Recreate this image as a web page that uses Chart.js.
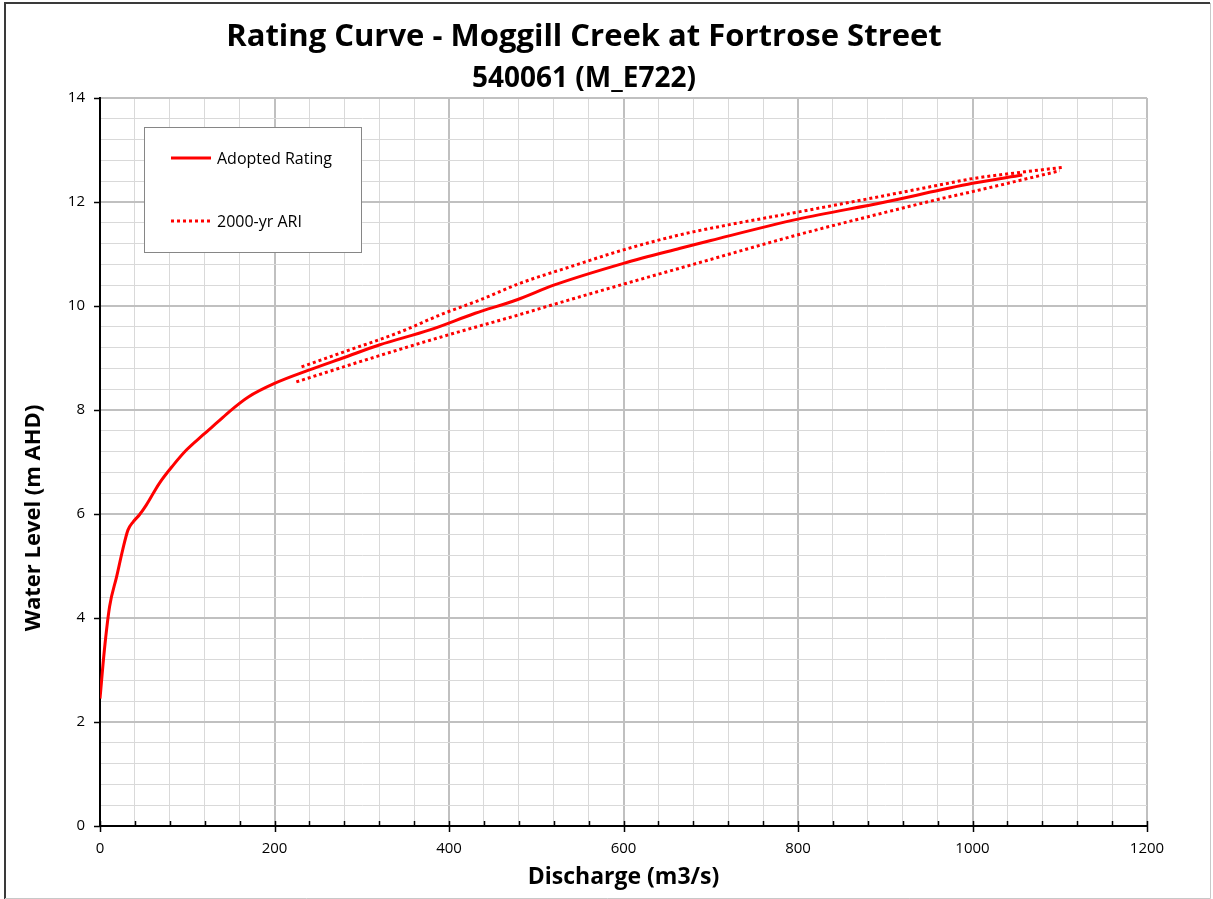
<!DOCTYPE html>
<html>
<head>
<meta charset="utf-8">
<title>Rating Curve - Moggill Creek at Fortrose Street</title>
<script src="https://cdn.jsdelivr.net/npm/chart.js@4/dist/chart.umd.min.js"></script>
<style>
  html, body { margin: 0; padding: 0; background: #ffffff; }
  #wrap { position: relative; width: 1213px; height: 899px; }
  canvas { display: block; }
</style>
</head>
<body>
<div id="wrap"><canvas id="chart" width="1213" height="899"></canvas></div>
<script>
// Adopted rating: discharge (m3/s) and water level (m AHD)
const adoptedQ = [0, 5, 11, 19, 26, 32, 38, 45, 53, 68, 84, 99, 118, 135, 149, 170, 200, 240, 280, 320, 378, 430, 478, 520, 600, 665, 700, 800, 900, 963, 1000, 1057];
const adoptedH = [2.45, 3.38, 4.22, 4.79, 5.31, 5.69, 5.85, 5.98, 6.17, 6.59, 6.94, 7.23, 7.52, 7.77, 7.98, 8.25, 8.51, 8.77, 9.01, 9.25, 9.54, 9.86, 10.12, 10.40, 10.82, 11.11, 11.26, 11.67, 12.00, 12.23, 12.36, 12.52];

// 2000-yr ARI envelope, upper branch
const ariUpperQ = [231, 280, 344, 390, 436, 482, 540, 600, 665, 720, 801, 880, 963, 1000, 1060, 1105];
const ariUpperH = [8.83, 9.12, 9.50, 9.83, 10.12, 10.44, 10.76, 11.08, 11.37, 11.56, 11.81, 12.06, 12.33, 12.45, 12.58, 12.67];

// 2000-yr ARI envelope, lower branch
const ariLowerQ = [225, 300, 390, 480, 520, 600, 684, 800, 900, 963, 1000, 1100];
const ariLowerH = [8.54, 8.94, 9.40, 9.83, 10.03, 10.42, 10.82, 11.37, 11.80, 12.06, 12.20, 12.60];

// Labelled axis values
const xTickLabels = [0, 200, 400, 600, 800, 1000, 1200];
const yTickLabels = [0, 2, 4, 6, 8, 10, 12, 14];

const titleText = 'Rating Curve - Moggill Creek at Fortrose Street';
const subtitleText = '540061 (M_E722)';
const xTitle = 'Discharge (m3/s)';
const yTitle = 'Water Level (m AHD)';

const FONT = '"Open Sans", "Noto Sans", "Liberation Sans", sans-serif';
const RED = '#ff0000';

function pts(qs, hs) { return qs.map((q, i) => ({ x: q, y: hs[i] })); }
function isMajor(v, list) { return list.some(t => Math.abs(t - v) < 1e-6); }

// Frame, titles, axis tick marks and inset legend
const decorations = {
  id: 'decorations',
  beforeDraw(chart) {
    const ctx = chart.ctx;
    ctx.save();
    ctx.fillStyle = '#ffffff';
    ctx.fillRect(0, 0, chart.width, chart.height);
    ctx.restore();
  },
  afterDraw(chart) {
    const ctx = chart.ctx;
    const xs = chart.scales.x, ys = chart.scales.y;
    const area = chart.chartArea;
    ctx.save();

    // tick marks
    ctx.strokeStyle = '#000000';
    ctx.lineWidth = 1.5;
    for (let v = 0; v <= 1200 + 1e-6; v += 40) {
      const px = Math.round(xs.getPixelForValue(v)) + 0.5;
      ctx.beginPath();
      if (isMajor(v, xTickLabels)) {
        ctx.moveTo(px, area.bottom - 5);
        ctx.lineTo(px, area.bottom + 6);
      } else {
        ctx.moveTo(px, area.bottom - 5);
        ctx.lineTo(px, area.bottom);
      }
      ctx.stroke();
    }
    yTickLabels.forEach(v => {
      const py = Math.round(ys.getPixelForValue(v)) + 0.5;
      ctx.beginPath();
      ctx.moveTo(area.left - 6, py);
      ctx.lineTo(area.left, py);
      ctx.stroke();
    });

    // titles
    ctx.fillStyle = '#000000';
    ctx.textAlign = 'center';
    ctx.textBaseline = 'alphabetic';
    ctx.font = 'bold 31px ' + FONT;
    ctx.fillText(titleText, 584, 46);
    ctx.font = 'bold 28px ' + FONT;
    ctx.fillText(subtitleText, 584, 87);

    ctx.font = 'bold 23px ' + FONT;
    ctx.fillText(xTitle, (area.left + area.right) / 2, 884);
    ctx.save();
    ctx.translate(34, 518);
    ctx.rotate(-Math.PI / 2);
    ctx.font = 'bold 22px ' + FONT;
    ctx.textBaseline = 'middle';
    ctx.fillText(yTitle, 0, 0);
    ctx.restore();

    // legend box
    const lx = 144.5, ly = 127.5, lw = 217, lh = 125;
    ctx.fillStyle = '#ffffff';
    ctx.fillRect(lx, ly, lw, lh);
    ctx.strokeStyle = '#868686';
    ctx.lineWidth = 1;
    ctx.strokeRect(lx, ly, lw, lh);

    const entries = chart.data.datasets.filter(d => !d.hideInLegend);
    const rowY = [158, 221];
    ctx.textAlign = 'left';
    ctx.textBaseline = 'middle';
    ctx.font = '16px ' + FONT;
    entries.forEach((d, i) => {
      const y = rowY[i];
      ctx.beginPath();
      ctx.strokeStyle = d.borderColor;
      ctx.lineWidth = d.borderWidth;
      ctx.setLineDash(d.borderDash || []);
      ctx.moveTo(171, y);
      ctx.lineTo(211, y);
      ctx.stroke();
      ctx.setLineDash([]);
      ctx.fillStyle = '#000000';
      ctx.fillText(d.label, 217, y + 1);
    });

    // outer frame
    ctx.lineWidth = 2;
    ctx.strokeStyle = '#3a3a3a';
    ctx.beginPath();
    ctx.moveTo(5, 899); ctx.lineTo(5, 3); ctx.lineTo(1210, 3);
    ctx.stroke();
    ctx.lineWidth = 1;
    ctx.strokeStyle = '#c8c8c8';
    ctx.beginPath();
    ctx.moveTo(1210.5, 3); ctx.lineTo(1210.5, 898.5); ctx.lineTo(5, 898.5);
    ctx.stroke();
    ctx.restore();
  }
};

const gridColor = (list) => (c) => isMajor(c.tick.value, list) ? '#c0c0c0' : '#d9d9d9';
const gridWidth = (list) => (c) => isMajor(c.tick.value, list) ? 2 : 1;

new Chart(document.getElementById('chart'), {
  type: 'line',
  data: {
    datasets: [
      {
        label: 'Adopted Rating',
        data: pts(adoptedQ, adoptedH),
        borderColor: RED,
        borderWidth: 3,
        pointRadius: 0,
        cubicInterpolationMode: 'monotone',
        fill: false
      },
      {
        label: '2000-yr ARI',
        data: pts(ariUpperQ, ariUpperH),
        borderColor: RED,
        borderWidth: 3,
        borderDash: [3, 3],
        pointRadius: 0,
        cubicInterpolationMode: 'monotone',
        fill: false
      },
      {
        label: '2000-yr ARI',
        hideInLegend: true,
        data: pts(ariLowerQ, ariLowerH),
        borderColor: RED,
        borderWidth: 3,
        borderDash: [3, 3],
        pointRadius: 0,
        cubicInterpolationMode: 'monotone',
        fill: false
      }
    ]
  },
  options: {
    responsive: false,
    animation: false,
    devicePixelRatio: 1,
    layout: { padding: { top: 98, right: 66, left: 0, bottom: 0 } },
    plugins: {
      legend: { display: false },
      tooltip: { enabled: false },
      title: { display: false }
    },
    scales: {
      x: {
        type: 'linear',
        min: 0, max: 1200,
        afterFit: (s) => { s.height = 73; },
        border: { display: true, color: '#000000', width: 2 },
        grid: { color: gridColor(xTickLabels), lineWidth: gridWidth(xTickLabels), drawTicks: false },
        ticks: {
          stepSize: 40, autoSkip: false, maxTicksLimit: 100, maxRotation: 0,
          padding: 14, color: '#000000',
          font: { family: FONT, size: 15 },
          callback: (v) => isMajor(v, xTickLabels) ? String(Math.round(v)) : ''
        }
      },
      y: {
        type: 'linear',
        min: 0, max: 14,
        afterFit: (s) => { s.width = 100; },
        border: { display: true, color: '#000000', width: 2 },
        grid: { color: gridColor(yTickLabels), lineWidth: gridWidth(yTickLabels), drawTicks: false },
        ticks: {
          stepSize: 0.4, autoSkip: false, maxTicksLimit: 100,
          padding: 15, color: '#000000',
          font: { family: FONT, size: 15 },
          callback: (v) => isMajor(v, yTickLabels) ? String(Math.round(v)) : ''
        }
      }
    }
  },
  plugins: [decorations]
});
</script>
</body>
</html>
